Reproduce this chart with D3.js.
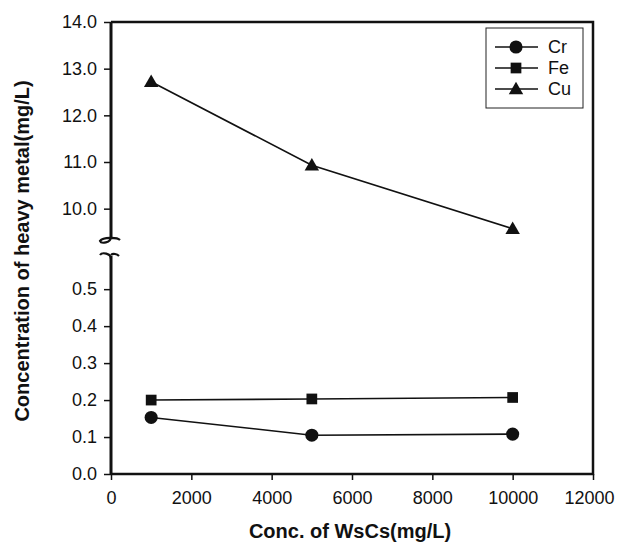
<!DOCTYPE html>
<html>
<head>
<meta charset="utf-8">
<script src="https://cdn.jsdelivr.net/npm/d3@7"></script>
<style>
  body { margin: 0; background: #fff; }
  svg { font-family: "Liberation Sans", Arial, sans-serif; }
  .tick-label { font-size: 18px; fill: #111; }
  .axis-title { font-size: 20px; font-weight: bold; fill: #111; }
</style>
</head>
<body>
<div id="chart"></div>
<script>
// data
const wscs = [1000, 5000, 10000];
const cr = [0.153, 0.105, 0.108];
const fe = [0.200, 0.203, 0.207];
const cu = [12.72, 10.93, 9.57];
const xTicks = [0, 2000, 4000, 6000, 8000, 10000, 12000];
const yTicksHigh = [10, 11, 12, 13, 14];
const yTicksLow = [0, 0.1, 0.2, 0.3, 0.4, 0.5];
const seriesNames = ["Cr", "Fe", "Cu"];

const width = 617, height = 542;
const plot = { left: 111, right: 593, top: 22, bottom: 474 };
const breakHi = 239, breakLo = 256;

const svg = d3.select("#chart").append("svg")
  .attr("width", width)
  .attr("height", height);

const x = d3.scaleLinear().domain([0, 12000]).range([plot.left, plot.right]);
// upper (Cu) and lower (Cr, Fe) parts of the broken y axis
const yHi = d3.scaleLinear().domain([9.35, 14]).range([breakHi, plot.top]);
const yLo = d3.scaleLinear().domain([0, 0.5897]).range([plot.bottom, breakLo]);

const L = plot.left;

// frame: top, right, bottom
svg.append("path")
  .attr("d", `M${L},${plot.top}H${plot.right}V${plot.bottom}H${L}`)
  .attr("fill", "none")
  .attr("stroke", "#111")
  .attr("stroke-width", 2.5);

// left axis in two pieces
svg.append("line").attr("x1", L).attr("x2", L).attr("y1", plot.top).attr("y2", breakHi)
  .attr("stroke", "#111").attr("stroke-width", 3);
svg.append("line").attr("x1", L).attr("x2", L).attr("y1", breakLo).attr("y2", plot.bottom)
  .attr("stroke", "#111").attr("stroke-width", 3);

// break marks
svg.append("path")
  .attr("d", `M${L},${breakHi - 2} C${L},${breakHi + 4} ${L - 10},${breakHi + 5} ${L - 11},${breakHi + 2} C${L - 8},${breakHi - 2} ${L + 6},${breakHi - 2} ${L + 9},${breakHi + 1}`)
  .attr("fill", "none").attr("stroke", "#111").attr("stroke-width", 2.2);
svg.append("path")
  .attr("d", `M${L},${breakLo + 3} C${L},${breakLo - 3} ${L - 9},${breakLo - 4} ${L - 11},${breakLo - 1} M${L},${breakLo - 1} C${L + 2},${breakLo - 3} ${L + 6},${breakLo - 2} ${L + 8},${breakLo}`)
  .attr("fill", "none").attr("stroke", "#111").attr("stroke-width", 2.2);

// y axes
const hiAxis = svg.append("g")
  .attr("transform", `translate(${L},0)`)
  .call(d3.axisLeft(yHi).tickValues(yTicksHigh).tickFormat(d3.format(".1f")).tickSizeOuter(0).tickSize(7).tickPadding(7));
const loAxis = svg.append("g")
  .attr("transform", `translate(${L},0)`)
  .call(d3.axisLeft(yLo).tickValues(yTicksLow).tickFormat(d3.format(".1f")).tickSizeOuter(0).tickSize(7).tickPadding(7));
const xAxis = svg.append("g")
  .attr("transform", `translate(0,${plot.bottom})`)
  .call(d3.axisBottom(x).tickValues(xTicks).tickSizeOuter(0).tickSize(6).tickPadding(11).tickFormat(d3.format("d")));

[hiAxis, loAxis, xAxis].forEach(g => {
  g.select(".domain").remove();
  g.selectAll(".tick line").attr("stroke", "#111").attr("stroke-width", 1.5);
  g.selectAll(".tick text").attr("class", "tick-label");
  g.attr("font-size", null).attr("font-family", null);
});
// last x label sits a little left of its tick, as in the original
xAxis.selectAll(".tick text").filter(d => d === 12000).attr("dx", -4);

// series
const markerPath = {
  Cr: d3.symbol().type(d3.symbolCircle).size(135)(),
  Fe: d3.symbol().type(d3.symbolSquare).size(115)(),
  Cu: d3.symbol().type(d3.symbolTriangle).size(90)()
};
const series = [
  { name: "Cr", values: cr, y: yLo },
  { name: "Fe", values: fe, y: yLo },
  { name: "Cu", values: cu, y: yHi }
];

series.forEach(s => {
  const pts = wscs.map((w, i) => [x(w), s.y(s.values[i])]);
  svg.append("path")
    .attr("d", d3.line()(pts))
    .attr("fill", "none")
    .attr("stroke", "#111")
    .attr("stroke-width", 1.6);
  svg.selectAll(null).data(pts).enter().append("path")
    .attr("d", markerPath[s.name])
    .attr("transform", d => `translate(${d[0]},${d[1] + (s.name === "Cu" ? 1 : 0)})`)
    .attr("fill", "#111");
});

// legend
const legend = svg.append("g").attr("transform", "translate(486,28)");
legend.append("rect")
  .attr("width", 97).attr("height", 80)
  .attr("fill", "#fff").attr("stroke", "#222").attr("stroke-width", 1);
seriesNames.forEach((name, i) => {
  const ly = 19 + i * 21;
  legend.append("line").attr("x1", 9).attr("x2", 52).attr("y1", ly).attr("y2", ly)
    .attr("stroke", "#111").attr("stroke-width", 1.6);
  legend.append("path").attr("d", markerPath[name])
    .attr("transform", `translate(30,${ly + (name === "Cu" ? 1 : 0)})`)
    .attr("fill", "#111");
  legend.append("text").attr("class", "tick-label")
    .attr("x", 62).attr("y", ly).attr("dy", "0.35em")
    .text(name);
});

// axis titles
svg.append("text").attr("class", "axis-title")
  .attr("x", 350).attr("y", 538)
  .attr("text-anchor", "middle")
  .text("Conc. of WsCs(mg/L)");
svg.append("text").attr("class", "axis-title")
  .attr("transform", "translate(29,251) rotate(-90)")
  .attr("text-anchor", "middle")
  .text("Concentration of heavy metal(mg/L)");
</script>
</body>
</html>
